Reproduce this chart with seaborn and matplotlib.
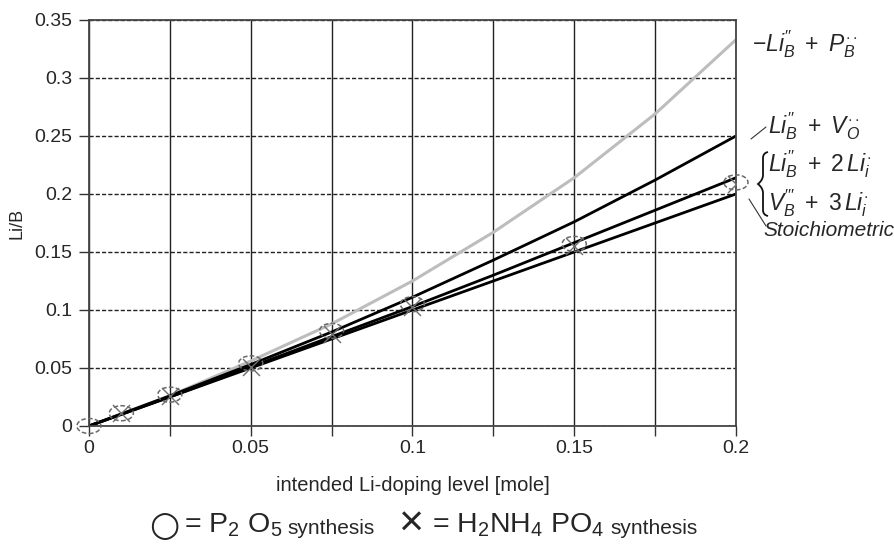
import numpy as np
import pandas as pd
import matplotlib
matplotlib.use("Agg")
import matplotlib.pyplot as plt
import seaborn as sns
from matplotlib.path import Path
from matplotlib.patches import PathPatch
from matplotlib.transforms import Affine2D
from matplotlib.lines import Line2D

# calculated Li/B for the defect models
doping = [0, 0.025, 0.05, 0.075, 0.1, 0.125, 0.15, 0.175, 0.2]
li_p_model = [0, 0.026, 0.056, 0.088, 0.125, 0.167, 0.214, 0.269, 0.333]
li_vo_model = [0, 0.026, 0.053, 0.081, 0.111, 0.143, 0.176, 0.212, 0.25]
li_int_model = [0, 0.025, 0.051, 0.077, 0.103, 0.130, 0.158, 0.186, 0.214]
stoich_model = [0, 0.025, 0.05, 0.075, 0.1, 0.125, 0.15, 0.175, 0.2]

# measured points
p2o5_x = [0, 0.01, 0.025, 0.05, 0.075, 0.1, 0.15, 0.2]
p2o5_y = [0, 0.011, 0.027, 0.054, 0.082, 0.105, 0.157, 0.210]
nh4_x = [0.01, 0.025, 0.05, 0.075, 0.1, 0.15, 0.2]
nh4_y = [0.011, 0.026, 0.051, 0.079, 0.103, 0.155, 0.209]

sns.set_theme(style="white")
plt.rcParams['font.family'] = ['Liberation Sans', 'DejaVu Sans']
plt.rcParams['mathtext.fontset'] = 'custom'
plt.rcParams['mathtext.rm'] = 'Liberation Sans'
plt.rcParams['mathtext.it'] = 'Liberation Sans:italic'

fig = plt.figure(figsize=(8.95, 5.46), dpi=100)
ax = fig.add_axes([0.0994, 0.2198, 0.7229, 0.7436])

W, H = 895, 546
def fx(px):
    return px / W
def fy(py):
    return 1 - py / H

sns.lineplot(x=doping, y=li_p_model, color='#bdbdbd', lw=2.2, ax=ax)
sns.lineplot(x=doping, y=li_vo_model, color='black', lw=2, ax=ax)
sns.lineplot(x=doping, y=li_int_model, color='black', lw=2, ax=ax)
sns.lineplot(x=doping, y=stoich_model, color='black', lw=2, ax=ax)

ellipse = Path.unit_circle().transformed(Affine2D().scale(1.6, 1.0))
sns.scatterplot(x=p2o5_x, y=p2o5_y, marker=ellipse, s=300, ax=ax, zorder=6)
circ = ax.collections[-1]
circ.set_facecolor('none')
circ.set_edgecolor('#6a6a6a')
circ.set_linewidth(1.1)
circ.set_linestyle((0, (3, 1.5)))
circ.set_clip_on(False)
sns.scatterplot(x=nh4_x, y=nh4_y, marker='x', s=150, color='#6e6e6e',
                linewidth=1.0, ax=ax, zorder=5)

ax.set_xlim(0, 0.2)
ax.set_ylim(0, 0.35)
ax.set_xticks(np.arange(0, 0.2001, 0.025))
ax.set_xticklabels(['0', '', '0.05', '', '0.1', '', '0.15', '', '0.2'])
ax.set_yticks(np.arange(0, 0.3501, 0.05))
ax.set_yticklabels(['0', '0.05', '0.1', '0.15', '0.2', '0.25', '0.3', '0.35'])
ax.tick_params(axis='both', labelsize=14, length=7, width=1, direction='out',
               color='#333333', pad=3, bottom=True, left=True)
ax.tick_params(axis='y', pad=5)
ax.grid(True, axis='x', color='#222222', lw=1, ls='-')
ax.grid(True, axis='y', color='#222222', lw=1, ls=(0, (3, 1.5)))
for s in ax.spines.values():
    s.set_color('#444444')
    s.set_linewidth(1.3)
ax.set_xlabel('intended Li-doping level [mole]', fontsize=14.5, labelpad=14)
ax.set_ylabel('Li/B', fontsize=13, labelpad=6)

# model labels on the right
lab = dict(fontsize=16.5, va='center', ha='left')
fig.text(fx(752), fy(44), r'$-Li_B^{\prime\prime}\ +\ P_B^{\cdot\cdot}$', **lab)
fig.text(fx(768), fy(126), r'$Li_B^{\prime\prime}\ +\ V_O^{\cdot\cdot}$', **lab)
fig.text(fx(768), fy(164), r'$Li_B^{\prime\prime}\ +\ 2\,Li_i^{\cdot}$', **lab)
fig.text(fx(768), fy(203), r'$V_B^{\prime\prime\prime}\ +\ 3\,Li_i^{\cdot}$', **lab)
fig.text(fx(763), fy(230), 'Stoichiometric', fontsize=15, style='italic', va='center', ha='left')
fig.add_artist(Line2D([fx(751), fx(766)], [fy(139), fy(127)], color='#333333', lw=0.8))
fig.add_artist(Line2D([fx(749), fx(766)], [fy(199), fy(226)], color='#333333', lw=0.8))

# curly brace grouping the two interstitial models
bx = [768, 763, 763, 763, 763, 758, 763, 763, 763, 763, 768]
by = [152, 153, 158, 175, 180, 184, 188, 193, 210, 215, 216]
brace = Path([(fx(a), fy(b)) for a, b in zip(bx, by)],
             [Path.MOVETO, Path.CURVE3, Path.CURVE3, Path.LINETO, Path.CURVE3, Path.CURVE3,
              Path.CURVE3, Path.CURVE3, Path.LINETO, Path.CURVE3, Path.CURVE3])
fig.add_artist(PathPatch(brace, transform=fig.transFigure, fc='none', ec='#111111', lw=1.3))

# marker key under the chart
fig.text(fx(149), fy(526), '\u25cb', fontsize=25, va='center', ha='left', family=['DejaVu Sans'])
fig.text(fx(184), fy(525), r'= P$_2$ O$_5$', fontsize=20.5, va='center', ha='left')
fig.text(fx(287), fy(529), 'synthesis', fontsize=15, va='center', ha='left')
fig.text(fx(398), fy(525), '\u00d7', fontsize=31, va='center', ha='left', fontweight='light')
fig.text(fx(432), fy(525), r'= H$_2$NH$_4$ PO$_4$', fontsize=20.5, va='center', ha='left')
fig.text(fx(610), fy(529), 'synthesis', fontsize=15, va='center', ha='left')

fig.savefig('out.png', dpi=100)
